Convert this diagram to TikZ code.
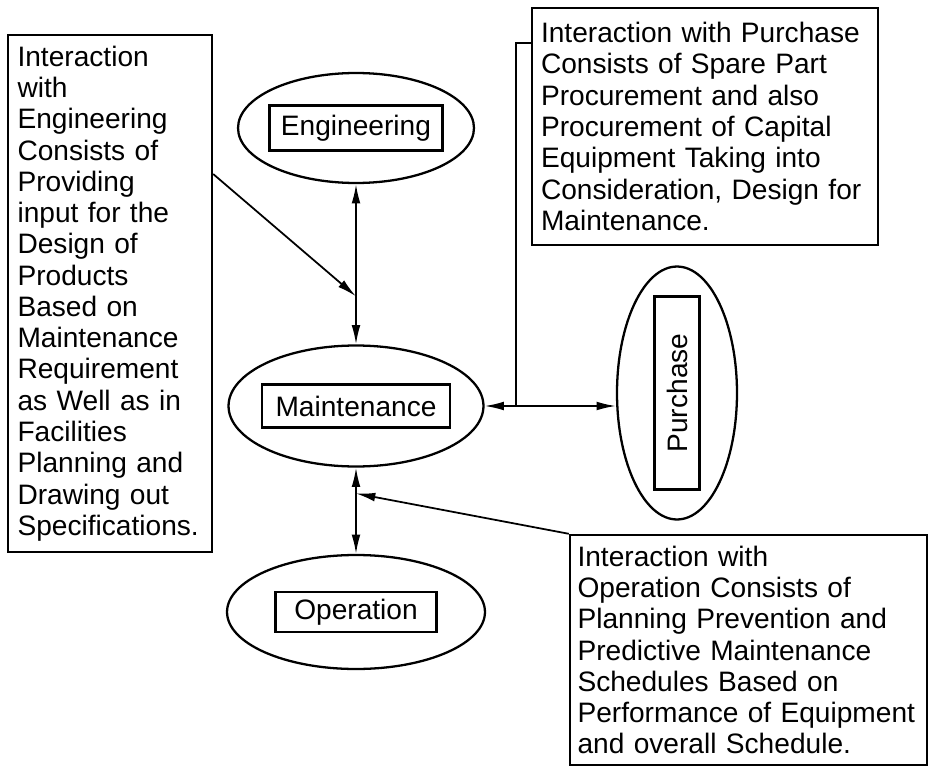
\documentclass[tikz,border=0pt]{standalone}
\usepackage{fontspec}
\setmainfont{Liberation Sans}
\usetikzlibrary{arrows.meta,shapes.geometric,calc}

\begin{document}
\begin{tikzpicture}[
    x=0.02cm, y=-0.02cm,
    >={Latex[length=11pt,width=5pt]},
    every node/.style={font=\fontsize{16}{17.8}\selectfont},
    note/.style={rectangle, draw, line width=1.4pt, align=left,
                 inner ysep=0pt},
    unit/.style={ellipse, draw, line width=1.3pt, inner sep=0pt},
    tag/.style={rectangle, draw, line width=1.3pt, inner sep=0pt,
                minimum height=0.88cm},
    link/.style={line width=1pt},
]
\useasboundingbox (0,0) rectangle (930,767);

\node [note, text width=3.7cm, inner xsep=0.19cm, minimum height=10.34cm]
  (engnote) at (110,293.5) {Interaction\\with\\Engineering\\Consists of\\
  Providing\\input for the\\Design of\\Products\\Based on\\Maintenance\\
  Requirement\\as Well as in\\Facilities\\Planning and\\Drawing out\\
  Specifications.};
\node [note, text width=6.56cm, inner xsep=0.18cm, minimum height=4.74cm]
  (purnote) at (705,126.5) {Interaction with Purchase\\Consists of Spare Part\\
  Procurement and also\\Procurement of Capital\\Equipment Taking into\\
  Consideration, Design for\\Maintenance.};
\node [note, text width=6.84cm, inner xsep=0.15cm, minimum height=4.6cm]
  (opnote) at (748.5,650) {Interaction with\\Operation Consists of\\
  Planning Prevention and\\Predictive Maintenance\\Schedules Based on\\
  Performance of Equipment\\and overall Schedule.};

\node [unit, minimum width=4.72cm, minimum height=2.2cm] (eng) at (356,128) {};
\node [unit, minimum width=5.1cm, minimum height=2.42cm] (maint) at (356,406) {};
\node [unit, minimum width=2.4cm, minimum height=5.06cm] (pur) at (677,393) {};
\node [unit, minimum width=5.16cm, minimum height=2.28cm] (oper) at (356,612) {};

\node [tag, minimum width=3.46cm, minimum height=0.9cm] (englabel) at (eng) {Engineering};
\node [tag, minimum width=3.76cm, minimum height=0.86cm] (maintlabel) at (maint) {Maintenance};
\node [tag, rotate=90, minimum width=3.86cm, minimum height=0.9cm] (purlabel) at (pur) {Purchase};
\node [tag, minimum width=3.22cm, minimum height=0.8cm] (operlabel) at (oper) {Operation};

\coordinate (engjoin) at ($(eng.south)!0.7!(maint.north)$);
\coordinate (purjoin) at ($(maint.east)!0.24!(maint.east -| pur.west)$);
\coordinate (operjoin) at ($(maint.south)!0.3!(oper.north)$);

\draw [link, <->] (eng.south) -- (maint.north);
\draw [link, <->] (maint.east) -- (maint.east -| pur.west);
\draw [link, <->] (maint.south) -- (oper.north);
\draw [link, ->] ($(engnote.north east)!0.27!(engnote.south east)$) -- (engjoin);
\draw [link] ($(purnote.north west)!0.15!(purnote.south west)$) -| (purjoin);
\draw [link, ->] (opnote.north west) -- (operjoin);

\end{tikzpicture}
\end{document}
